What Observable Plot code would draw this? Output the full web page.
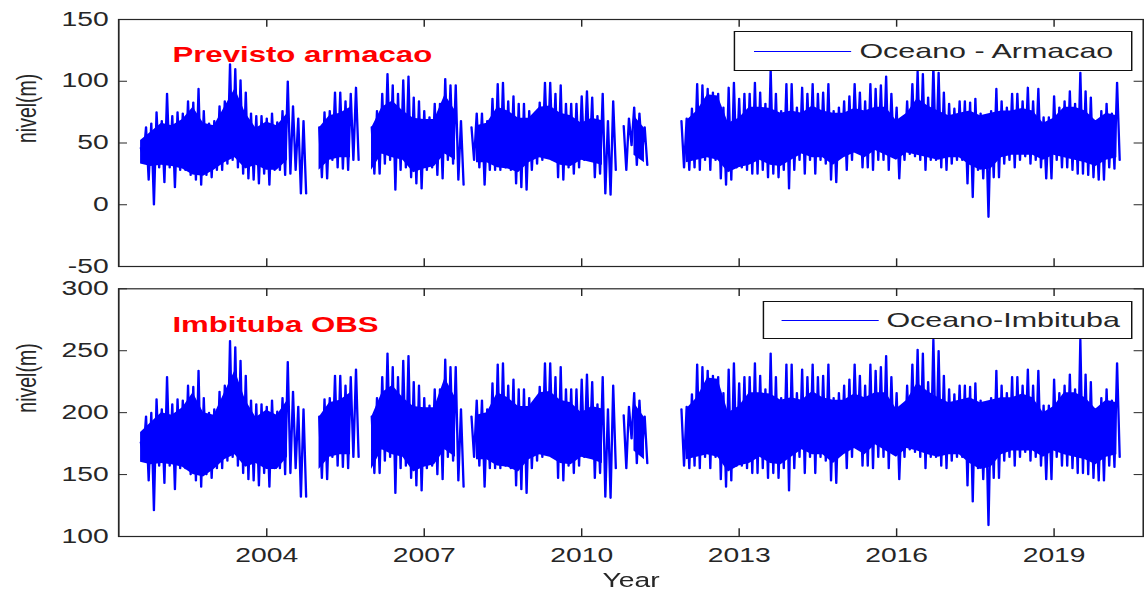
<!DOCTYPE html>
<html><head><meta charset="utf-8">
<script src="https://cdn.jsdelivr.net/npm/d3@7"></script>
<script src="https://cdn.jsdelivr.net/npm/@observablehq/plot@0.6"></script>
<style>
html,body{margin:0;padding:0;background:#fff;overflow:hidden}
#wrap{position:relative;width:789px;height:593px;transform:scaleX(1.45);transform-origin:0 0;font-family:"Liberation Sans",Arial,sans-serif;color:#262626}
#wrap svg{display:block}
.legend{position:absolute;background:#fff;border:1px solid #111;box-sizing:border-box}
.legend .swatch{position:absolute;top:50%;height:0;border-top:1.3px solid #0000ff}
.legend .label{position:absolute;top:50%;transform:translateY(-52%);font-size:21px;color:#262626;line-height:1;white-space:nowrap}
</style></head><body>
<div id="wrap"></div>
<script>
// Spike envelope: one value pair (high, then low half a step later) every 0.1 year
const startYear = 2001.6;
const stepYear = 0.1;
// Dense core band: one (high, low) pair every 0.2 year
const coreStep = 0.2;

// Upper panel: Previsto armacao (nivel, m)
const armacaoHigh = [
  46, 63, 66, 75,
  68, 90, 72, 75, 74, 84, 83, 94, 76, 66,
  68, 80, 84, 114, 110, 101, 91, 74, 72, 72,
  70, 74, 67, 76, 100, 80, 70, 68, null, null,
  63, 75, 76, 91, 91, 84, 90, 95, null, null,
  63, 76, 90, 106, 97, 90, 101, 104, 87, 84,
  76, 71, 82, 82, 102, 97, 97, 68, null, 63,
  74, 74, 68, 86, 98, 99, 84, 88, 82, 82,
  76, 72, 83, 99, 99, 90, 97, 82, 82, 82,
  88, 92, 87, 72, 90, 68, 84, null, 64, 70,
  79, 74, 63, null, null, null, null, null, null, 68,
  70, 78, 98, 97, 94, 91, 90, 79, 95, 99,
  86, 90, 90, 99, 91, 82, 110, 90, 76, 98,
  98, 79, 95, 90, 98, 90, 91, 98, 76, 79,
  84, 88, 98, 91, 84, 98, 94, 97, 104, 90,
  79, 68, 84, 98, 108, 106, 87, 112, 107, 91,
  82, 78, 84, 84, 83, 86, 74, 71, 76, 94,
  84, 79, 90, 90, 84, 95, 84, 94, 71, 71,
  88, 79, 84, 92, 82, 107, 92, 87, 68, 76,
  82, 74, 99
];
const armacaoLow = [
  38, 20, 0, 30,
  18, 30, 14, 28, 28, 24, 20, 16, 24, 22,
  28, 28, 33, 36, 30, 25, 21, 20, 17, 25,
  16, 28, 28, 24, 25, 28, 9, 9, null, null,
  22, 21, 36, 30, 29, 28, 36, 36, null, null,
  25, 25, 33, 36, 12, 28, 30, 22, 17, 13,
  28, 30, 24, 21, 36, 33, 20, 16, null, 36,
  30, 16, 28, 28, 28, 30, 28, 17, 14, 12,
  28, 33, 36, 39, 36, 22, 20, 30, 25, 30,
  36, 36, 22, 25, 9, 8, 28, null, 28, 48,
  32, 41, 32, null, null, null, null, null, null, 30,
  28, 30, 28, 36, 28, 36, 21, 16, 20, 30,
  30, 28, 25, 25, 28, 22, 25, 22, 28, 13,
  28, 36, 25, 36, 25, 36, 33, 20, 18, 39,
  28, 36, 44, 30, 30, 28, 36, 36, 28, 39,
  21, 36, 41, 39, 36, 28, 36, 36, 30, 28,
  33, 36, 36, 17, 6, 28, 21, -10, 22, 22,
  33, 36, 30, 36, 39, 33, 36, 30, 21, 21,
  36, 30, 30, 28, 25, 25, 24, 22, 20, 20,
  30, 29, 36
];
const armacaoCoreHigh = [
  52, 59,
  66, 64, 69, 79, 66,
  64, 79, 94, 74, 62,
  67, 64, 74, null, null,
  62, 72, 74, 79, null,
  62, 79, 84, 76, 70,
  69, 69, 89, 76, null,
  64, 66, 79, 76, 70,
  70, 79, 80, 74, 72,
  66, 70, 68, null, null,
  72, 62, null, null, null,
  68, 76, 89, 88, 66,
  70, 79, 79, 78, 74,
  76, 74, 80, 76, 74,
  74, 78, 76, 79, 79,
  68, 74, 86, 80, 76,
  72, 74, 76, 72, 74,
  76, 76, 78, 76, 66,
  70, 79, 79, 76, 68,
  74, 72
];
const armacaoCoreLow = [
  33, 31,
  32, 31, 29, 24, 23,
  28, 34, 38, 29, 32,
  28, 28, 36, null, null,
  28, 36, 38, 38, null,
  28, 41, 38, 36, 26,
  29, 31, 41, 36, null,
  34, 34, 30, 29, 26,
  34, 38, 36, 32, 31,
  36, 34, 32, null, null,
  40, 34, null, null, null,
  34, 36, 38, 36, 26,
  30, 32, 36, 32, 31,
  36, 41, 38, 38, 32,
  38, 42, 38, 44, 40,
  36, 42, 40, 38, 36,
  38, 38, 32, 28, 29,
  38, 40, 40, 40, 36,
  40, 38, 36, 34, 31,
  36, 38
];

// Lower panel: Imbituba OBS (nivel, m)
const imbitubaHigh = [
  176, 197, 200, 211,
  203, 229, 207, 211, 210, 222, 221, 234, 212, 200,
  203, 217, 222, 258, 253, 242, 230, 210, 207, 207,
  205, 210, 201, 212, 241, 217, 205, 203, null, null,
  197, 211, 212, 230, 230, 222, 229, 235, null, null,
  197, 212, 229, 248, 237, 229, 242, 246, 225, 222,
  212, 206, 219, 219, 243, 237, 237, 203, null, 197,
  210, 210, 203, 224, 239, 240, 222, 227, 219, 219,
  212, 207, 221, 240, 240, 229, 237, 219, 219, 219,
  227, 231, 225, 207, 229, 203, 222, null, 198, 205,
  216, 210, 197, null, null, null, null, null, null, 203,
  205, 215, 239, 237, 234, 230, 229, 216, 235, 240,
  224, 229, 229, 240, 230, 219, 248, 229, 212, 239,
  239, 216, 235, 229, 239, 229, 230, 239, 212, 216,
  222, 227, 239, 230, 222, 239, 234, 237, 246, 229,
  216, 203, 222, 239, 251, 248, 225, 259, 250, 230,
  219, 215, 222, 222, 221, 224, 210, 206, 212, 234,
  222, 216, 229, 229, 222, 235, 222, 234, 206, 206,
  227, 216, 222, 231, 219, 259, 231, 225, 203, 212,
  219, 210, 240
];
const imbitubaLow = [
  167, 145, 121, 157,
  143, 157, 138, 155, 155, 150, 145, 140, 150, 147,
  155, 155, 161, 164, 157, 151, 146, 145, 141, 151,
  140, 155, 155, 150, 151, 155, 132, 132, null, null,
  147, 146, 164, 157, 156, 155, 164, 164, null, null,
  151, 151, 161, 164, 135, 155, 157, 147, 141, 137,
  155, 157, 150, 146, 164, 161, 145, 140, null, 164,
  157, 140, 155, 155, 155, 157, 155, 141, 138, 135,
  155, 161, 164, 168, 164, 147, 145, 157, 151, 157,
  164, 164, 147, 151, 132, 131, 155, null, 155, 179,
  159, 170, 159, null, null, null, null, null, null, 157,
  155, 157, 155, 164, 155, 164, 146, 140, 145, 157,
  157, 155, 151, 151, 155, 147, 151, 147, 155, 137,
  155, 164, 151, 164, 151, 164, 161, 145, 143, 168,
  155, 164, 174, 157, 157, 155, 164, 164, 155, 168,
  146, 164, 170, 168, 164, 155, 164, 164, 157, 155,
  161, 164, 164, 141, 128, 155, 146, 109, 147, 147,
  161, 164, 157, 164, 168, 161, 164, 157, 146, 146,
  164, 157, 157, 155, 151, 151, 150, 147, 145, 145,
  157, 156, 164
];
const imbitubaCoreHigh = [
  184, 192,
  200, 198, 204, 216, 200,
  198, 216, 234, 210, 196,
  202, 198, 210, null, null,
  196, 208, 210, 216, null,
  196, 216, 222, 212, 205,
  204, 204, 228, 212, null,
  198, 200, 216, 212, 205,
  205, 216, 217, 210, 208,
  200, 205, 203, null, null,
  208, 196, null, null, null,
  203, 212, 228, 227, 200,
  205, 216, 216, 215, 210,
  212, 210, 217, 212, 210,
  210, 215, 212, 216, 216,
  203, 210, 224, 217, 212,
  208, 210, 212, 208, 210,
  212, 212, 215, 212, 200,
  205, 216, 216, 212, 203,
  210, 208
];
const imbitubaCoreLow = [
  160, 158,
  159, 158, 156, 150, 148,
  154, 162, 166, 156, 159,
  154, 154, 164, null, null,
  154, 164, 166, 166, null,
  154, 170, 166, 164, 152,
  156, 158, 170, 164, null,
  162, 162, 157, 156, 152,
  162, 166, 164, 159, 158,
  164, 162, 159, null, null,
  169, 162, null, null, null,
  162, 164, 166, 164, 152,
  157, 159, 164, 159, 158,
  164, 170, 166, 166, 159,
  166, 171, 166, 174, 169,
  164, 171, 169, 166, 164,
  166, 166, 159, 154, 156,
  166, 169, 169, 169, 164,
  169, 166, 164, 162, 158,
  164, 166
];

const xTicks = [2004, 2007, 2010, 2013, 2016, 2019];
const xTickLabels = ["2004", "2007", "2010", "2013", "2016", "2019"];
const topYTicks = [-50, 0, 50, 100, 150];
const bottomYTicks = [100, 150, 200, 250, 300];
const panelTitles = ["Previsto armacao", "Imbituba OBS"];
const legendLabels = ["Oceano - Armacao", "Oceano-Imbituba"];
const yLabel = "nivel(m)";
const xLabel = "Year";

function buildSeries(high, low) {
  const out = [];
  high.forEach((h, i) => {
    const t = startYear + i * stepYear;
    out.push({t, v: h == null ? NaN : h});
    out.push({t: t + stepYear / 2, v: low[i] == null ? NaN : low[i]});
  });
  return out;
}
function buildCore(high, low) {
  return high.map((h, i) => ({
    t: startYear + i * coreStep,
    hi: h == null ? NaN : h,
    lo: low[i] == null ? NaN : low[i]
  }));
}

const W = 789, ML = 81.4, MR = 1;
const xDomain = [2001.18, 2020.70];
const ink = "#262626";
const blue = "#0000ff";

function panel(o) {
  const plotH = o.height - o.marginTop - o.marginBottom;
  const yLen = (o.yDomain[1] - o.yDomain[0]) * 7.7 / plotH;
  const xLen = (xDomain[1] - xDomain[0]) * 6.2 / (W - ML - MR);
  const marks = [
    Plot.areaY(o.core, {x: "t", y1: "lo", y2: "hi", fill: blue}),
    Plot.line(o.data, {x: "t", y: "v", stroke: blue, strokeWidth: 1.6}),
    Plot.ruleX(xTicks, {x: d => d, y1: o.yDomain[0], y2: o.yDomain[0] + yLen, stroke: ink}),
    Plot.ruleX(xTicks, {x: d => d, y1: o.yDomain[1] - yLen, y2: o.yDomain[1], stroke: ink}),
    Plot.ruleY(o.yTicks, {y: d => d, x1: xDomain[0], x2: xDomain[0] + xLen, stroke: ink}),
    Plot.ruleY(o.yTicks, {y: d => d, x1: xDomain[1] - xLen, x2: xDomain[1], stroke: ink}),
    Plot.frame({stroke: ink, strokeWidth: 1.2}),
    Plot.axisY(o.yTicks, {anchor: "left", tickSize: 0, tickPadding: 7, tickFormat: d => String(d), label: null}),
    Plot.text([o.title], {text: d => d, frameAnchor: "top-left", dx: 37, dy: 36, fill: "#ff0000", fontWeight: "bold", fontSize: 21.5, textAnchor: "start", lineAnchor: "middle"}),
    Plot.text([yLabel], {text: d => d, frameAnchor: "left", dx: -63, rotate: -90, fontSize: 19.5, lineAnchor: "middle"})
  ];
  if (o.showX) {
    marks.push(Plot.axisX(xTicks, {anchor: "bottom", tickSize: 0, tickPadding: 12, tickFormat: d => xTickLabels[xTicks.indexOf(d)], label: null}));
    marks.push(Plot.text([xLabel], {text: d => d, frameAnchor: "bottom", dy: 44.5, fontSize: 19.5, lineAnchor: "middle"}));
  }
  return Plot.plot({
    width: W, height: o.height,
    marginLeft: ML, marginRight: MR, marginTop: o.marginTop, marginBottom: o.marginBottom,
    x: {domain: xDomain, axis: null},
    y: {domain: o.yDomain, axis: null},
    style: {fontFamily: '"Liberation Sans", Arial, sans-serif', fontSize: "19.5px", color: ink, background: "#fff", overflow: "visible"},
    marks
  });
}

const wrap = document.getElementById("wrap");
wrap.appendChild(panel({
  data: buildSeries(armacaoHigh, armacaoLow), core: buildCore(armacaoCoreHigh, armacaoCoreLow),
  yDomain: [-50, 150], yTicks: topYTicks,
  title: panelTitles[0], height: 280, marginTop: 19, marginBottom: 14, showX: false
}));
wrap.appendChild(panel({
  data: buildSeries(imbitubaHigh, imbitubaLow), core: buildCore(imbitubaCoreHigh, imbitubaCoreLow),
  yDomain: [100, 300], yTicks: bottomYTicks,
  title: panelTitles[1], height: 313, marginTop: 8.3, marginBottom: 57, showX: true
}));

function addLegend(label, box, swatchLeft, labelLeft) {
  const d = document.createElement("div");
  d.className = "legend";
  Object.assign(d.style, {left: box[0] + "px", top: box[1] + "px", width: box[2] + "px", height: box[3] + "px"});
  const s = document.createElement("div");
  s.className = "swatch";
  Object.assign(s.style, {left: swatchLeft + "px", width: "67px"});
  const t = document.createElement("div");
  t.className = "label";
  t.style.left = labelLeft + "px";
  t.textContent = label;
  d.appendChild(s); d.appendChild(t);
  wrap.appendChild(d);
}
addLegend(legendLabels[0], [506.2, 31, 274.5, 40], 13, 85.5);
addLegend(legendLabels[1], [525.5, 300.7, 255.2, 38.6], 12.4, 84.8);
</script>
</body></html>
